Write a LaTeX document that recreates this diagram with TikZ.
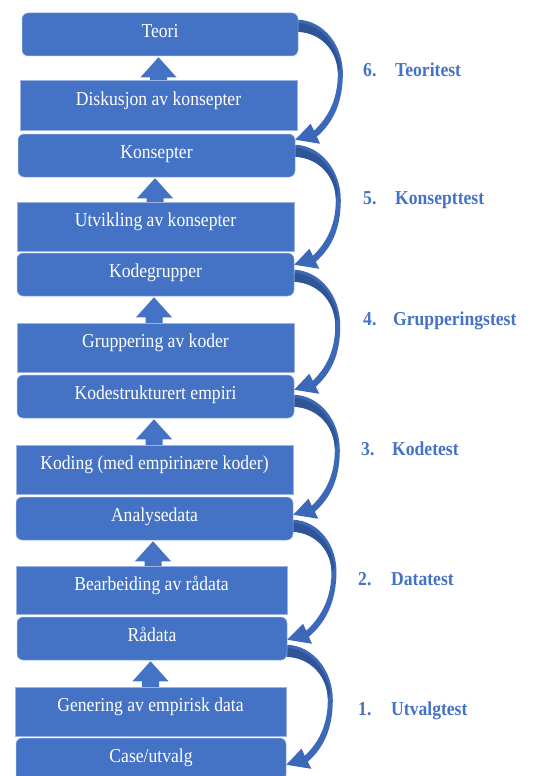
\documentclass[tikz,border=0pt]{standalone}
\usepackage{fontspec}
\usepackage{graphicx}
\setmainfont{Liberation Serif}
\usetikzlibrary{calc}
\pgfdeclarelayer{background}
\pgfsetlayers{background,main}

\definecolor{boxblue}{HTML}{4472C4}
\definecolor{boxedge}{HTML}{9DB4E2}
\definecolor{bendblue}{HTML}{3C68B8}
\definecolor{benddark}{HTML}{2F5597}
\definecolor{testblue}{HTML}{4472C4}

% the lettering is set slightly taller than it is wide
\newcommand{\tallText}[1]{\scalebox{1}[1.12]{#1}}

\tikzset{
  boxtext/.style={font=\fontsize{17.6pt}{20pt}\selectfont, text=white, inner sep=0pt},
  roundbox/.style={boxtext, fill=boxblue, draw=boxedge, line width=0.5pt,
    rounded corners=6pt, text height=12pt, text depth=6.4pt},
  stagebox/.style={boxtext, fill=boxblue, draw=boxedge, line width=0.5pt,
    text height=12pt, text depth=11.4pt},
  testlabel/.style={font=\bfseries\fontsize{17.6pt}{20pt}\selectfont, text=testblue,
    inner sep=0pt, anchor=west, text height=11.6pt, text depth=0pt},
  % thick curved arrow bending out to the right and back into the next box
  pics/bendarrow/.style={code={
    \begin{scope}[xslant=#1]
      \fill[bendblue] (0,0) .. controls (25,1) and (46,25) .. (46,56)
        .. controls (46,86) and (36,104) .. (21.5,117)
        -- (25,124) -- (0,120) -- (15,104) -- (18.5,111)
        .. controls (31,99) and (41,82) .. (41,56)
        .. controls (41,32) and (24,13) .. (0,12) -- cycle;
      \fill[benddark] (0,3) .. controls (22,5) and (40,24) .. (43.5,48)
        -- (41,53) .. controls (40,31) and (23,13) .. (0,12) -- cycle;
    \end{scope}
  }},
}

% block arrow pointing up from a stage box into the box above it
\newcommand{\riseArrow}[2]{%
  \fill[boxblue] let \p1=(#1.south), \p2=(#2.north) in
    (\x1-1.5pt,\y1-1pt) -- (\x1+16.5pt,\y1-21pt) -- (\x1+7pt,\y1-21pt)
    -- (\x1+7pt,\y2) -- (\x1-10pt,\y2) -- (\x1-10pt,\y1-21pt)
    -- (\x1-19.5pt,\y1-21pt) -- cycle;}

\begin{document}
\begin{tikzpicture}[x=1pt,y=-1pt]
\useasboundingbox (0,0) rectangle (534,776);
\clip (0,0) rectangle (534,776);

% results, each one built from the stage below it
\node[roundbox, minimum width=276pt, minimum height=43pt] (teori) at (160,34.5) {\tallText{Teori}};
\node[roundbox, minimum width=277pt, minimum height=43pt] (konsepter) at (156.5,155.5) {\tallText{Konsepter}};
\node[roundbox, minimum width=277pt, minimum height=43pt] (kodegrupper) at (155.5,274.5) {\tallText{Kodegrupper}};
\node[roundbox, minimum width=277pt, minimum height=43pt] (empiri) at (155.5,396.5) {\tallText{Kodestrukturert empiri}};
\node[roundbox, minimum width=277pt, minimum height=43pt] (analysedata) at (154.5,518.5) {\tallText{Analysedata}};
\node[roundbox, minimum width=270pt, minimum height=43pt] (raadata) at (152,638.5) {\tallText{Rådata}};
\node[roundbox, minimum width=270pt, minimum height=43pt] (case) at (151,759.5) {\tallText{Case/utvalg}};

% working stages
\node[stagebox, minimum width=277pt, minimum height=50pt] (diskusjon) at (158.5,105) {\tallText{Diskusjon av konsepter}};
\node[stagebox, minimum width=277pt, minimum height=49pt] (utvikling) at (155.5,226.5) {\tallText{Utvikling av konsepter}};
\node[stagebox, minimum width=277pt, minimum height=49pt] (gruppering) at (155.5,347.5) {\tallText{Gruppering av koder}};
\node[stagebox, minimum width=277pt, minimum height=49pt] (koding) at (154.5,469.5) {\tallText{Koding (med empirinære koder)}};
\node[stagebox, minimum width=271pt, minimum height=48pt] (bearbeiding) at (151.5,590) {\tallText{Bearbeiding av rådata}};
\node[stagebox, minimum width=271pt, minimum height=49pt] (genering) at (150.5,711.5) {\tallText{Genering av empirisk data}};

\begin{pgfonlayer}{background}
  % upward steps
  \riseArrow{teori}{diskusjon}
  \riseArrow{konsepter}{utvikling}
  \riseArrow{kodegrupper}{gruppering}
  \riseArrow{empiri}{koding}
  \riseArrow{analysedata}{bearbeiding}
  \riseArrow{raadata}{genering}

  % tests, running back down from each result
  \pic at ($(teori.north east)+(0,7)$) {bendarrow=0.025};
  \pic at ($(konsepter.north east)+(0,11)$) {bendarrow=0.008};
  \pic at ($(kodegrupper.north east)+(0,17)$) {bendarrow=0};
  \pic at ($(empiri.north east)+(0,20)$) {bendarrow=0.008};
  \pic at ($(analysedata.north east)+(0,23)$) {bendarrow=0.05};
  \pic at ($(raadata.north east)+(0,28)$) {bendarrow=0.008};
\end{pgfonlayer}

% test names
\node[testlabel] (n6) at (363,71) {\tallText{6.}};
\node[testlabel] (t6) at (395,71) {\tallText{Teoritest}};
\node[testlabel] (n5) at (363,199) {\tallText{5.}};
\node[testlabel] (t5) at (395,199) {\tallText{Konsepttest}};
\node[testlabel] (n4) at (363,320) {\tallText{4.}};
\node[testlabel] (t4) at (393,320) {\tallText{Grupperingstest}};
\node[testlabel] (n3) at (361,450) {\tallText{3.}};
\node[testlabel] (t3) at (392,450) {\tallText{Kodetest}};
\node[testlabel] (n2) at (358,580) {\tallText{2.}};
\node[testlabel] (t2) at (391,580) {\tallText{Datatest}};
\node[testlabel] (n1) at (358,710) {\tallText{1.}};
\node[testlabel] (t1) at (391,710) {\tallText{Utvalgtest}};
\end{tikzpicture}
\end{document}
